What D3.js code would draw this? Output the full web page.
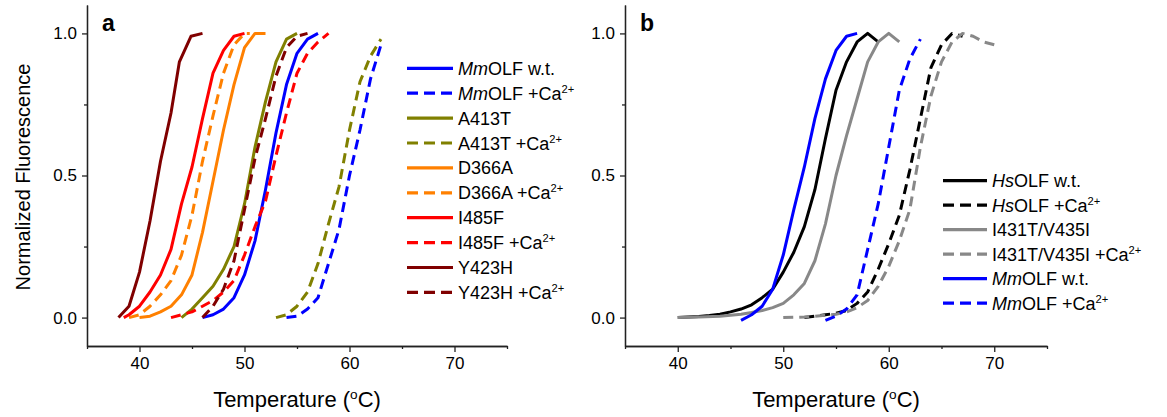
<!DOCTYPE html>
<html>
<head>
<meta charset="utf-8">
<style>
body { margin: 0; background: #fff; }
text { font-family: "Liberation Sans", Arial, sans-serif; fill: #000; }
</style>
</head>
<body>
<svg width="1167" height="417"></svg>
<script src="https://cdn.jsdelivr.net/npm/d3@7"></script>
<script>

// panel a, [temperature (C), normalized fluorescence]
var mmWtA = [[46,0],[47,0.01],[48,0.03],[49,0.07],[50,0.15],[51,0.27],[52,0.45],[53,0.65],[54,0.82],[55,0.93],[56,0.98],[57,1.0]]
var mmCaA = [[54,0],[55,0.005],[56,0.03],[57,0.07],[58,0.19],[59,0.31],[60,0.5],[61,0.66],[62,0.84],[63,0.96]]
var a413t = [[44,0],[45,0.03],[46,0.07],[47,0.11],[48,0.17],[49,0.25],[50,0.4],[51,0.6],[52,0.76],[53,0.9],[54,0.98],[55,1.0]]
var a413tCa = [[53,0],[54,0.01],[55,0.04],[56,0.09],[57,0.19],[58,0.33],[59,0.46],[60,0.66],[61,0.83],[62,0.92],[63,0.98]]
var d366a = [[40,0],[41,0.005],[42,0.02],[43,0.04],[44,0.08],[45,0.15],[46,0.3],[47,0.48],[48,0.66],[49,0.82],[50,0.95],[51,1.0],[52,1.0]]
var d366aCa = [[39,0],[40,0.01],[41,0.04],[42,0.08],[43,0.13],[44,0.22],[45,0.36],[46,0.55],[47,0.71],[48,0.86],[49,0.96],[50,1.0],[50.5,1.0]]
var i485f = [[38.5,0],[39,0.01],[40,0.04],[41,0.09],[42,0.15],[43,0.24],[44,0.4],[45,0.53],[46,0.7],[47,0.86],[48,0.94],[49,0.99],[50,1.0]]
var i485fCa = [[43,0],[44,0.01],[45,0.02],[46,0.04],[47,0.06],[48,0.09],[49,0.13],[50,0.22],[51,0.32],[52,0.41],[53,0.57],[54,0.72],[55,0.86],[56,0.93],[57,0.97],[58,1.0]]
var y423h = [[38,0],[39,0.04],[40,0.16],[41,0.34],[42,0.55],[43,0.72],[43.8,0.9],[44.9,0.99],[46,1.0]]
var y423hCa = [[46,0],[47,0.04],[48,0.1],[49,0.2],[50,0.38],[51,0.56],[52,0.7],[53,0.85],[54,0.95],[55,0.99],[56,1.0]]

// panel b
var hsWt = [[40,0],[41,0.002],[42,0.004],[43,0.007],[44,0.012],[45,0.02],[46,0.03],[47,0.045],[48,0.07],[49,0.1],[50,0.16],[51,0.23],[52,0.32],[53,0.45],[54,0.63],[55,0.8],[56,0.9],[57,0.97],[58,1.0],[59,0.97]]
var hsCa = [[52,0],[54,0.01],[55,0.015],[56,0.025],[57,0.05],[58,0.09],[59,0.17],[60,0.26],[61,0.36],[62,0.52],[63,0.7],[64,0.88],[65,0.96],[66,1.0],[67,0.99]]
var dbl = [[40,0],[42,0.002],[44,0.005],[45,0.008],[46,0.012],[47,0.018],[48,0.025],[49,0.035],[50,0.05],[51,0.08],[52,0.12],[53,0.2],[54,0.33],[55,0.5],[56,0.64],[57,0.77],[58,0.9],[59,0.97],[60,1.0],[61,0.97]]
var dblCa = [[50,0],[52,0.002],[54,0.008],[55,0.012],[56,0.02],[57,0.035],[58,0.06],[59,0.11],[60,0.18],[61,0.27],[62,0.38],[63,0.6],[64,0.78],[65,0.9],[66,0.97],[67,1.0],[68,0.99],[69,0.97],[70,0.96]]
var mmWtB = [[46,-0.01],[47,0.01],[48,0.04],[49,0.1],[50,0.22],[51,0.38],[52,0.53],[53,0.7],[54,0.84],[55,0.94],[56,0.99],[57,1.0]]
var mmCaB = [[54,-0.01],[55,0.005],[56,0.03],[57,0.08],[58,0.24],[59,0.4],[60,0.6],[61,0.8],[62,0.91],[63,0.98]]

var labelsA = ['MmOLF w.t.','MmOLF +Ca2+','A413T','A413T +Ca2+','D366A','D366A +Ca2+','I485F','I485F +Ca2+','Y423H','Y423H +Ca2+']
var labelsB = ['HsOLF w.t.','HsOLF +Ca2+','I431T/V435I','I431T/V435I +Ca2+','MmOLF w.t.','MmOLF +Ca2+']
var xTicks = [40,50,60,70]
var xMinor = [35,45,55,65,75]
var yTicks = [0,0.5,1.0]
var yMinor = [0.25,0.75]

var colorsA = ['#0000ff','#0000ff','#808000','#808000','#ff8000','#ff8000','#ff0000','#ff0000','#800000','#800000']
var colorsB = ['#000000','#000000','#888888','#888888','#0000ff','#0000ff']

var svg = d3.select('svg')

// italic species prefix and superscript 2+
function addLabel(t, s) {
	var m = s.match(/^(Mm|Hs)?(.*?)(\+Ca2\+)?$/)
	if (m[1]) t.append('tspan').style('font-style','italic').text(m[1])
	t.append('tspan').text(m[2] + (m[3] ? '+Ca' : ''))
	if (m[3]) t.append('tspan').attr('dy',-7).attr('font-size','0.62em').text('2+')
}

function drawPanel(opt) {
	var g = svg.append('g')
	var x = d3.scaleLinear().domain([35,75]).range(opt.xr)
	var y = d3.scaleLinear().domain([-0.1,1.1]).range([346,5])

	// minor ticks first, then major with labels
	g.append('g').attr('transform','translate(0,346)')
		.call(d3.axisBottom(x).tickValues(xMinor).tickSize(3).tickSizeOuter(0).tickFormat(''))
	g.append('g').attr('transform','translate(0,346)')
		.call(d3.axisBottom(x).tickValues(xTicks).tickSize(6).tickSizeOuter(0).tickPadding(5).tickFormat(d3.format('d')))
	g.append('g').attr('transform','translate('+opt.xr[0]+',0)')
		.call(d3.axisLeft(y).tickValues(yMinor).tickSize(3).tickSizeOuter(0).tickFormat(''))
	g.append('g').attr('transform','translate('+opt.xr[0]+',0)')
		.call(d3.axisLeft(y).tickValues(yTicks).tickSize(5).tickSizeOuter(0).tickPadding(5).tickFormat(d3.format('.1f')))

	g.selectAll('.domain, .tick line').attr('stroke','#222').attr('stroke-width',1.3)
	g.selectAll('.tick text').attr('font-size',17).attr('fill','#000')
		.style('font-family','"Liberation Sans", Arial, sans-serif')

	var line = d3.line().x(d => x(d[0])).y(d => y(d[1]))

	opt.curves.forEach(function(c,i) {
		g.append('path')
			.attr('d',line(c))
			.attr('fill','none')
			.attr('stroke',opt.colors[i])
			.attr('stroke-width',3)
			.attr('stroke-linejoin','round')
			.attr('stroke-dasharray', i%2 ? '10,6' : null)
	})

	// legend
	opt.labels.forEach(function(s,i) {
		var ly = opt.ly + i*opt.ldy
		g.append('line')
			.attr('x1',opt.lx).attr('x2',opt.lx+opt.lw)
			.attr('y1',ly).attr('y2',ly)
			.attr('stroke',opt.colors[i])
			.attr('stroke-width',3.2)
			.attr('stroke-dasharray', i%2 ? '11,6' : null)
		var t = g.append('text')
			.attr('x',opt.lx+opt.lw+5).attr('y',ly+6.5)
			.attr('font-size',18)
		addLabel(t,s)
	})

	g.append('text')
		.attr('x',opt.xr[0]+15).attr('y',31)
		.attr('font-size',23).attr('font-weight','bold')
		.text(opt.letter)

	var xt = g.append('text')
		.attr('x',(opt.xr[0]+opt.xr[1])/2).attr('y',407)
		.attr('text-anchor','middle').attr('font-size',22)
	xt.append('tspan').text('Temperature (')
	xt.append('tspan').attr('dy',-8).attr('font-size','0.62em').text('o')
	xt.append('tspan').attr('dy',8).text('C)')
}

drawPanel({
	letter:'a', xr:[87,507],
	curves:[mmWtA,mmCaA,a413t,a413tCa,d366a,d366aCa,i485f,i485fCa,y423h,y423hCa],
	colors:colorsA, labels:labelsA,
	lx:407, ly:68.3, ldy:24.9, lw:46
})

drawPanel({
	letter:'b', xr:[625,1047],
	curves:[hsWt,hsCa,dbl,dblCa,mmWtB,mmCaB],
	colors:colorsB, labels:labelsB,
	lx:943, ly:180.7, ldy:24.5, lw:44
})

svg.append('text')
	.attr('transform','translate(30,177) rotate(-90)')
	.attr('text-anchor','middle').attr('font-size',20)
	.text('Normalized Fluorescence')

</script>
</body>
</html>
